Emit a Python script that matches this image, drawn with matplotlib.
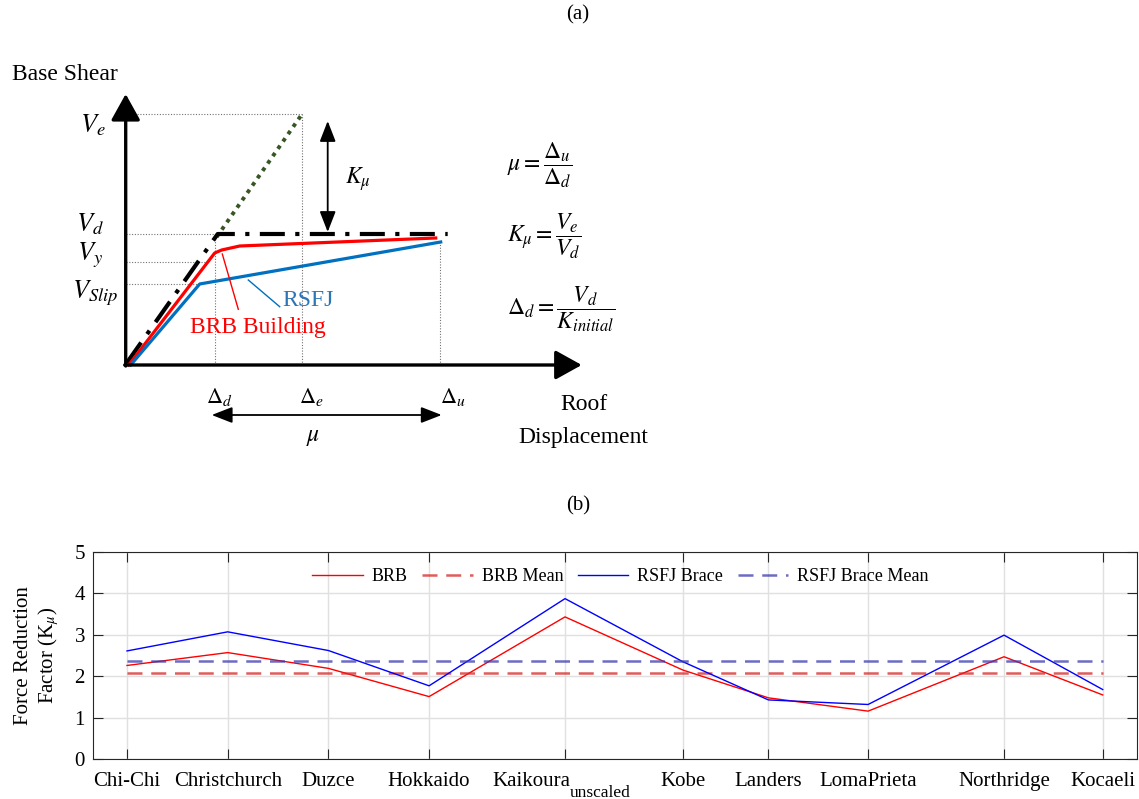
import matplotlib
matplotlib.use("Agg")
import matplotlib.pyplot as plt

plt.rcParams['font.family'] = ['Liberation Serif', 'DejaVu Serif']
plt.rcParams['mathtext.fontset'] = 'stix'

# ---- panel (b) data ----
records = ['Chi-Chi', 'Christchurch', 'Duzce', 'Hokkaido', 'Kaikoura',
           'Kobe', 'Landers', 'LomaPrieta', 'Northridge', 'Kocaeli']
record_pos = [1, 2, 3, 4, 5.35, 6.52, 7.37, 8.36, 9.71, 10.69]
brb_k = [2.26, 2.57, 2.19, 1.51, 3.43, 2.15, 1.48, 1.16, 2.47, 1.55]
rsfj_k = [2.61, 3.07, 2.62, 1.77, 3.87, 2.35, 1.43, 1.32, 2.99, 1.68]
brb_mean = sum(brb_k) / len(brb_k)
rsfj_mean = sum(rsfj_k) / len(rsfj_k)

# ---- panel (a) schematic (arbitrary units, origin at the corner) ----
d_d, d_e, d_u = 89, 176, 314
V_e, V_d, V_y, V_slip = 251, 131, 103, 81
ideal_x = [1, 92, 322]
ideal_y = [2, V_d, V_d]
elastic_x = [91, 175]
elastic_y = [128, 249]
brb_x = [3, 89, 96, 114, 310]
brb_y = [0, 112, 115, 119, 127]
rsfj_x = [5, 74, 315]
rsfj_y = [0, 81, 123]

fig = plt.figure(figsize=(11.39, 7.99), dpi=100)

# overlay axes for the schematic, 1 unit = 1 pixel
ax_a = fig.add_axes([0, 0, 1, 1])
ox, oy = 125.7, 365
ax_a.set_xlim(-ox, 1139 - ox)
ax_a.set_ylim(-(799 - oy), oy)
ax_a.axis('off')

guide = dict(color='0.45', lw=0.8, ls=(0, (1, 1.5)))
ax_a.plot([0, d_e], [V_e, V_e], **guide)
ax_a.plot([0, d_d], [V_d, V_d], **guide)
ax_a.plot([0, 79], [V_y, V_y], **guide)
ax_a.plot([0, 74], [V_slip, V_slip], **guide)
ax_a.plot([d_d, d_d], [0, V_d], **guide)
ax_a.plot([d_e, d_e], [0, V_e], **guide)
ax_a.plot([d_u, d_u], [0, 123], **guide)

ax_a.plot(elastic_x, elastic_y, color='#375623', lw=2.8, ls=(0, (1, 1.3)))
ax_a.plot(ideal_x, ideal_y, color='k', lw=3, ls=(0, (6, 2.5, 1, 2.5)))
ax_a.plot(brb_x, brb_y, color='#ff0000', lw=2.3)
ax_a.plot(rsfj_x, rsfj_y, color='#0070c0', lw=2.3)

# axes arrows
arr = dict(arrowstyle='-|>,head_length=0.9,head_width=0.5', color='k', lw=2.4,
           mutation_scale=18, shrinkA=0, shrinkB=0)
ax_a.annotate('', xy=(0, 271), xytext=(0, -1), arrowprops=arr)
ax_a.annotate('', xy=(456, 0), xytext=(-1, 0), arrowprops=arr)

dbl = dict(arrowstyle='<|-|>,head_length=0.9,head_width=0.35', color='k', lw=1.3,
           mutation_scale=14, shrinkA=0, shrinkB=0)
ax_a.annotate('', xy=(202, 244), xytext=(202, 133), arrowprops=dbl)
ax_a.annotate('', xy=(86, -50), xytext=(316, -50), arrowprops=dbl)

# callouts
ax_a.plot([96.6, 112.6], [111, 55.7], color='#ff0000', lw=1)
ax_a.plot([122.6, 154], [85, 58.3], color='#0070c0', lw=1)
ax_a.text(64, 38, 'BRB Building', color='#ff0000', fontsize=17, va='center')
ax_a.text(157, 65, 'RSFJ', color='#2e75b6', fontsize=17, va='center')

ax_a.text(-114, 290, 'Base Shear', fontsize=17, va='center')
ax_a.text(458, -40, 'Roof', fontsize=17, ha='center', va='center')
ax_a.text(458, -73, 'Displacement', fontsize=17, ha='center', va='center')

ax_a.text(-33, 240, '$V_e$', fontsize=19, ha='center', va='center')
ax_a.text(-36, 141, '$V_d$', fontsize=19, ha='center', va='center')
ax_a.text(-36, 110, '$V_y$', fontsize=19, ha='center', va='center')
ax_a.text(-31, 72, '$V_{Slip}$', fontsize=19, ha='center', va='center')
ax_a.text(94, -32, '$\\Delta_d$', fontsize=16, ha='center', va='center')
ax_a.text(186, -32, '$\\Delta_e$', fontsize=16, ha='center', va='center')
ax_a.text(327, -32, '$\\Delta_u$', fontsize=16, ha='center', va='center')
ax_a.text(232, 186, '$K_\\mu$', fontsize=17, ha='center', va='center')
ax_a.text(187, -73, '$\\mu$', fontsize=17, ha='center', va='center')

ax_a.text(381, 200, '$\\mu = \\dfrac{\\Delta_u}{\\Delta_d}$', fontsize=17, va='center')
ax_a.text(381, 129, '$K_\\mu = \\dfrac{V_e}{V_d}$', fontsize=17, va='center')
ax_a.text(381, 56, '$\\Delta_d = \\dfrac{V_d}{K_{initial}}$', fontsize=17, va='center')

ax_a.text(452, 350, '(a)', fontsize=15, ha='center', va='center')
ax_a.text(452, -141, '(b)', fontsize=15, ha='center', va='center')

# ---- panel (b) ----
ax = fig.add_axes([0.0819, 0.0497, 0.9163, 0.2598])
ax.plot(record_pos, brb_k, color='#ff0000', lw=1, label='BRB')
ax.plot([record_pos[0], record_pos[-1]], [brb_mean, brb_mean], color='#d62728',
        lw=1.8, ls=(0, (6, 3.5)), alpha=0.75, label='BRB Mean')
ax.plot(record_pos, rsfj_k, color='#0000ff', lw=1, label='RSFJ Brace')
ax.plot([record_pos[0], record_pos[-1]], [rsfj_mean, rsfj_mean], color='#3b3bb0',
        lw=1.8, ls=(0, (6, 3.5)), alpha=0.75, label='RSFJ Brace Mean')

ax.set_xlim(0.665, 11.03)
ax.set_ylim(0, 5)
ax.set_xticks(record_pos)
# Kaikoura is written separately below, with its "unscaled" subscript
ax.set_xticklabels([r if i != 4 else '' for i, r in enumerate(records)], fontsize=15)
ax.set_yticks(range(6))
ax.tick_params(axis='y', labelsize=15, pad=6)
ax.tick_params(axis='x', pad=9)
ax.tick_params(direction='in', length=7, width=0.8, top=True, right=True, color='#262626')
ax.grid(True, color='0.88', lw=1)
for s in ax.spines.values():
    s.set_color('#262626')
    s.set_linewidth(0.8)

ax.text(5.40, -0.0602, records[4], transform=ax.get_xaxis_transform(),
        ha='right', va='top', fontsize=15)
ax.text(5.40, -0.125, 'unscaled', transform=ax.get_xaxis_transform(),
        ha='left', va='top', fontsize=12.5)

ax.set_ylabel('Force Reduction\nFactor (K$_\\mu$)', fontsize=15, linespacing=1.15)
ax.yaxis.set_label_coords(-0.031, 0.5)
ax.legend(loc='upper center', ncol=4, frameon=False, fontsize=13, handlelength=2.8,
          columnspacing=0.8, handletextpad=0.5, bbox_to_anchor=(0.505, 1.0))

fig.savefig('out.png', dpi=100)
